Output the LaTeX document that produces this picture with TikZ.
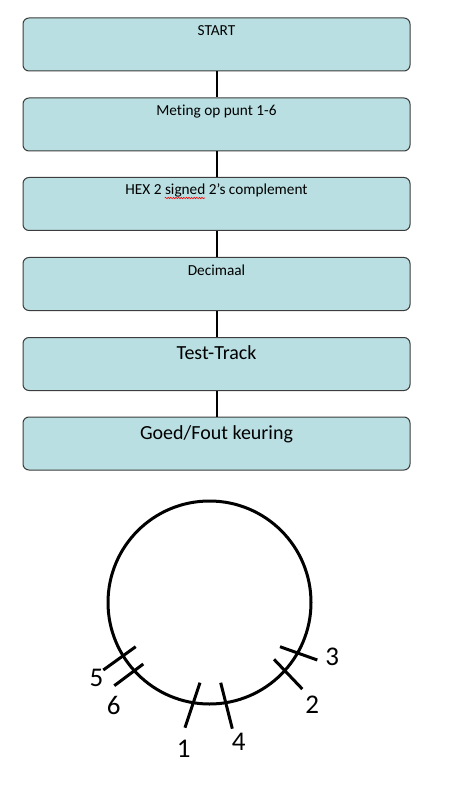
\documentclass[tikz,border=0pt]{standalone}
\usepackage{fontspec}
\setmainfont[Ligatures=NoCommon]{Carlito}
\usetikzlibrary{decorations.pathmorphing}
\newlength\hexpre
\newlength\signedw
\definecolor{boxfill}{RGB}{185,223,226}
\definecolor{boxline}{RGB}{60,60,60}
\newcommand\smallfont{\fontsize{15.3}{18}\selectfont}
\tikzset{
  flowbox/.style={draw=boxline, line width=1pt, fill=boxfill, rounded corners=6pt,
    minimum width=387pt, minimum height=53pt, inner sep=0pt, anchor=north},
  smalltxt/.style={anchor=base, inner sep=0pt, font=\smallfont},
  bigtxt/.style={anchor=base, inner sep=0pt, font=\fontsize{20}{23}\selectfont},
  link/.style={line width=2pt, black},
  tick/.style={line width=3pt, black},
  squiggle/.style={red, line width=0.6pt, decorate, decoration={snake, amplitude=0.7pt, segment length=2.6pt}},
  num/.style={inner sep=0pt, text height=17pt, text depth=0pt, anchor=center, font=\fontsize{27}{30}\selectfont}
}
\begin{document}
\settowidth\hexpre{\smallfont HEX 2\ }
\settowidth\signedw{\smallfont signed}
\begin{tikzpicture}[x=1pt,y=-1pt]
\useasboundingbox (0,0) rectangle (448,791);
% boxes
\node[flowbox] (b1) at (216.5,17.5) {};
\node[flowbox] (b2) at (216.5,97.5) {};
\node[flowbox] (b3) at (216.5,177) {};
\node[flowbox] (b4) at (216.5,257) {};
\node[flowbox] (b5) at (216.5,337) {};
\node[flowbox] (b6) at (216.5,416.5) {};
% connectors
\draw[link] (b1.south) -- (b2.north);
\draw[link] (b2.south) -- (b3.north);
\draw[link] (b3.south) -- (b4.north);
\draw[link] (b4.south) -- (b5.north);
\draw[link] (b5.south) -- (b6.north);
% texts
\node[smalltxt] (t1) at (216.5,36) {START};
\node[smalltxt] (t2) at (216.5,115.5) {Meting op punt 1-6};
\node[smalltxt] (t3) at (216.5,195) {HEX 2 signed 2{\char39}s complement};
\coordinate (sq1) at ([xshift=\hexpre, yshift=-3pt]t3.base west);
\coordinate (sq2) at ([xshift=\hexpre+\signedw, yshift=-3pt]t3.base west);
\draw[squiggle] (sq1) -- (sq2);
\node[smalltxt] (t4) at (216.5,275) {Decimaal};
\node[bigtxt] (t5) at (216.5,359) {Test-Track};
\node[bigtxt] (t6) at (216.5,439) {Goed/Fout keuring};
% circle
\coordinate (c) at (209.5,602.5);
\draw[line width=3pt] (c) circle[radius=101.5];
% ticks
\draw[tick] (103.3,670) -- (135.7,646.7);
\draw[tick] (114.3,685.7) -- (143.3,664);
\draw[tick] (185,727.7) -- (200,682.7);
\draw[tick] (220.7,682.7) -- (232.3,728.7);
\draw[tick] (280,646.7) -- (317.3,660);
\draw[tick] (274,659.3) -- (302.3,689);
% numbers
\node[num] (n5) at (96.5,678.3) {5};
\node[num] (n6) at (113.8,706.2) {6};
\node[num] (n1) at (183.7,748.8) {1};
\node[num] (n4) at (238.8,741.7) {4};
\node[num] (n3) at (332.2,657) {3};
\node[num] (n2) at (312.2,704.5) {2};
\end{tikzpicture}
\end{document}
